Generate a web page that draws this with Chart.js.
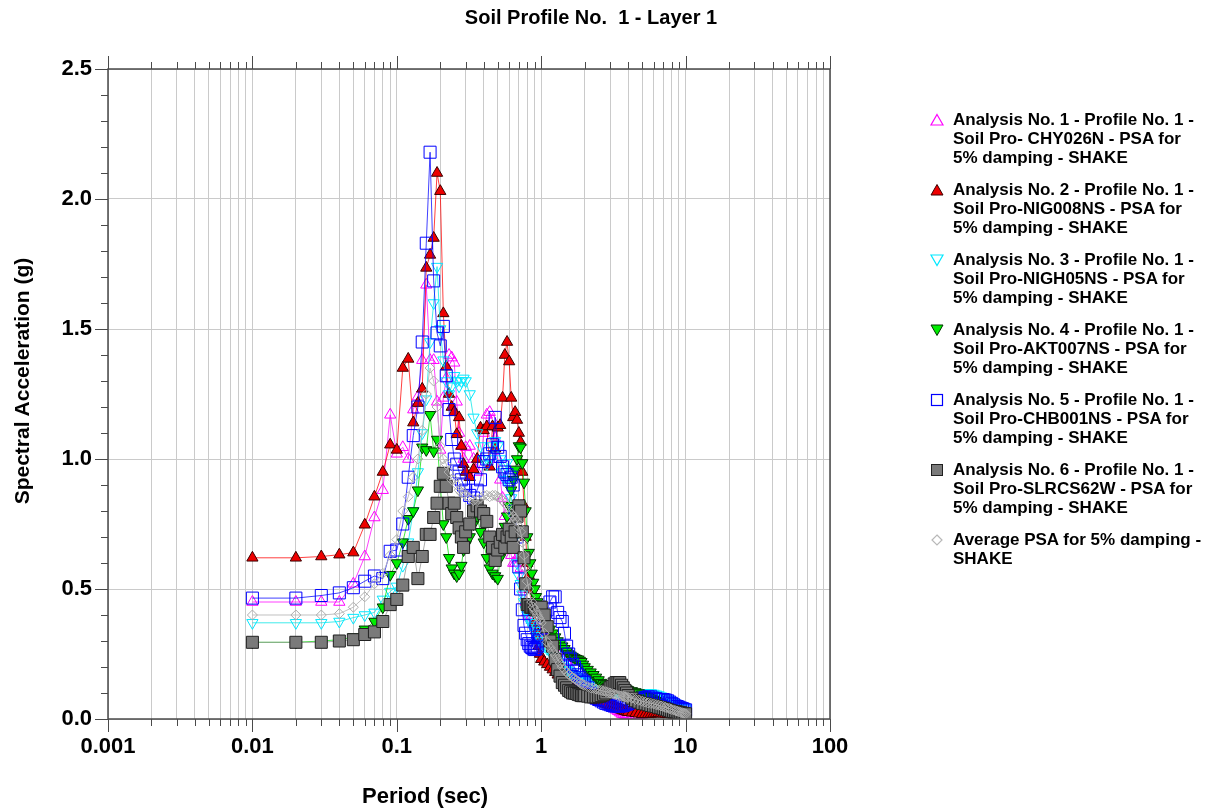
<!DOCTYPE html>
<html lang="en">
<head>
<meta charset="UTF-8">
<title>Soil Profile No. 1 - Layer 1</title>
<script src="https://cdn.jsdelivr.net/npm/chart.js@4.4.0/dist/chart.umd.min.js"></script>
<style>
  body { margin: 0; background: #fff; font-family: "Liberation Sans", Arial, sans-serif; }
  #wrap { position: relative; width: 1215px; height: 810px; overflow: hidden; }
  #chart { position: absolute; left: 0; top: 0; }
  .txt { position: absolute; font-weight: bold; color: #000; white-space: pre; }
  #title { top: 6px; left: 391px; width: 400px; text-align: center; font-size: 20px; }
  #xtitle { top: 783px; left: 325px; width: 200px; text-align: center; font-size: 22px; }
  #ytitle { top: 368px; left: -128px; width: 300px; height: 26px; line-height: 26px; text-align: center;
            font-size: 21px; transform: rotate(-90deg); }
  #legend { position: absolute; left: 928px; top: 110px; }
  .item { position: relative; height: 70px; }
  .item svg { position: absolute; left: 1px; top: 1.5px; }
  .item div { position: absolute; left: 25px; top: 0; font-size: 17px; line-height: 19px; font-weight: bold; white-space: nowrap; }
</style>
</head>
<body>
<div id="wrap">
  <canvas id="chart" width="1215" height="810"></canvas>
  <div id="title" class="txt">Soil Profile No.  1 - Layer 1</div>
  <div id="xtitle" class="txt">Period (sec)</div>
  <div id="ytitle" class="txt">Spectral Acceleration (g)</div>
  <div id="legend"></div>
</div>

<script>
// periods (sec)
const periods = [
  0.01,0.02,0.03,0.04,0.05,0.06,0.07,0.08,0.09,0.10,
  0.11,0.12,0.13,0.14,0.15,0.16,0.17,0.18,0.19,0.20,
  0.21,0.22,0.23,0.24,0.25,0.26,0.27,0.28,0.29,0.30,
  0.32,0.34,0.36,0.38,0.40,0.42,0.44,0.46,0.48,0.50,
  0.52,0.54,0.56,0.58,0.60,0.62,0.64,0.66,0.68,0.70,
  0.72,0.74,0.76,0.78,
  0.80,0.82,0.84,0.86,0.88,0.90,0.92,0.94,0.96,0.98,1.00,
  1.05,1.10,1.15,1.20,1.25,1.30,1.35,1.40,1.45,1.50,1.55,1.60,1.65,1.70,1.75,1.80,1.85,1.90,1.95,2.00,
  2.1,2.2,2.3,2.4,2.5,2.6,2.7,2.8,2.9,3.0,3.1,3.2,3.3,3.4,3.5,3.6,3.7,3.8,3.9,4.0,
  4.25,4.5,4.75,5.0,5.25,5.5,5.75,6.0,6.25,6.5,6.75,7.0,7.25,7.5,7.75,8.0,8.25,8.5,8.75,9.0,9.25,9.5,9.75,10.0
];

// spectral acceleration (g), one array per analysis
const psaCHY026N = [
  0.45,0.45,0.45,0.45,0.52,0.625,0.775,0.88,1.17,1.02,
  1.045,1.0,1.19,1.24,1.38,1.67,1.38,1.38,1.22,1.035,
  1.235,1.31,1.40,1.39,1.37,1.22,1.10,1.05,1.0,1.045,
  1.05,1.0,0.95,0.98,1.1,1.17,1.18,1.15,1.08,1.0,
  0.92,0.85,0.78,0.72,0.66,0.63,0.6,0.6,0.62,0.6,
  0.58,0.55,0.5,0.45,
  0.41,0.40,0.39,0.38,0.37,0.36,0.35,0.34,0.34,0.33,0.33,
  0.32,0.31,0.31,0.30,0.30,0.30,0.28,0.26,0.24,0.22,0.205,0.19,0.175,0.16,0.15,0.14,0.13,0.12,0.115,0.11,
  0.1,0.09,0.085,0.08,0.075,0.07,0.065,0.06,0.055,0.05,0.045,0.04,0.035,0.03,0.025,0.02,0.018,0.015,0.013,0.012,
  0.012,0.013,0.015,0.016,0.018,0.02,0.022,0.025,0.027,0.028,0.028,0.027,0.026,0.025,0.024,0.022,0.021,0.02,0.019,0.018,0.017,0.016,0.015,0.015
];
const psaNIG008NS = [
  0.62,0.62,0.625,0.632,0.64,0.747,0.855,0.95,1.055,1.035,
  1.35,1.385,1.14,1.215,1.27,1.735,1.785,1.85,2.10,2.03,
  1.56,1.355,1.25,1.20,1.18,1.095,1.16,1.05,0.98,0.95,
  0.93,0.96,1.0,1.12,1.11,1.125,0.97,1.125,1.04,1.12,
  1.13,1.235,1.40,1.45,1.375,1.235,1.16,1.18,1.15,1.10,
  1.065,0.95,0.82,0.7,
  0.6,0.55,0.5,0.45,0.41,0.37,0.34,0.31,0.28,0.25,0.23,
  0.22,0.21,0.2,0.19,0.18,0.17,0.165,0.16,0.15,0.14,0.135,0.13,0.125,0.12,0.11,0.105,0.1,0.095,0.09,0.088,
  0.084,0.08,0.076,0.072,0.068,0.065,0.062,0.058,0.055,0.052,0.049,0.046,0.043,0.04,0.037,0.035,0.032,0.03,0.028,0.026,
  0.024,0.022,0.02,0.018,0.018,0.018,0.019,0.02,0.021,0.022,0.021,0.02,0.019,0.018,0.018,0.017,0.016,0.015,0.015,0.014,0.013,0.013,0.012,0.012
];
const psaNIGH05NS = [
  0.37,0.37,0.37,0.375,0.39,0.40,0.41,0.46,0.49,0.51,
  0.59,0.68,0.8,0.95,1.1,1.23,1.45,1.6,1.74,1.5,
  1.38,1.3,1.25,1.28,1.32,1.3,1.28,1.3,1.31,1.3,
  1.25,1.16,1.1,1.05,1.0,0.98,1.0,1.05,1.07,1.05,
  1.0,0.95,0.92,0.985,0.9,0.85,0.8,0.7,0.6,0.55,
  0.52,0.48,0.45,0.42,
  0.4,0.39,0.37,0.36,0.35,0.34,0.33,0.32,0.31,0.30,0.29,
  0.28,0.27,0.26,0.25,0.24,0.23,0.22,0.21,0.2,0.19,0.185,0.18,0.175,0.17,0.165,0.16,0.155,0.15,0.148,0.145,
  0.142,0.14,0.135,0.13,0.127,0.125,0.122,0.12,0.117,0.115,0.112,0.11,0.108,0.105,0.103,0.1,0.1,0.1,0.1,0.1,
  0.1,0.1,0.1,0.1,0.1,0.1,0.1,0.098,0.095,0.092,0.088,0.084,0.08,0.076,0.072,0.068,0.064,0.06,0.056,0.053,0.05,0.047,0.044,0.042
];
const psaAKT007NS = [
  0.295,0.295,0.3,0.305,0.315,0.345,0.375,0.43,0.555,0.6,
  0.68,0.77,0.8,0.88,1.045,1.035,1.17,1.03,1.075,0.9,
  0.75,0.7,0.62,0.58,0.56,0.55,0.56,0.59,0.65,0.67,
  0.7,0.75,0.78,0.72,0.68,0.62,0.58,0.56,0.55,0.54,
  0.62,0.68,0.74,0.78,0.82,0.88,0.92,0.96,1.0,1.05,
  1.045,0.985,0.91,0.8,
  0.7,0.64,0.6,0.56,0.525,0.5,0.47,0.45,0.43,0.41,0.4,
  0.38,0.36,0.345,0.33,0.315,0.3,0.29,0.28,0.27,0.26,0.25,0.245,0.24,0.235,0.232,0.23,0.225,0.22,0.21,0.2,
  0.19,0.18,0.17,0.16,0.15,0.14,0.135,0.13,0.125,0.12,0.12,0.12,0.12,0.12,0.12,0.12,0.12,0.118,0.115,0.112,
  0.108,0.104,0.1,0.095,0.09,0.085,0.08,0.075,0.07,0.065,0.06,0.056,0.052,0.048,0.045,0.042,0.04,0.037,0.035,0.033,0.031,0.029,0.027,0.025
];
const psaCHB001NS = [
  0.465,0.465,0.475,0.485,0.505,0.53,0.55,0.54,0.645,0.65,
  0.75,0.93,1.09,1.2,1.45,1.83,2.18,1.685,1.485,1.435,
  1.51,1.32,1.19,1.075,1.0,0.98,0.95,0.92,0.9,0.88,
  0.86,0.85,0.88,0.92,0.99,1.0,1.02,1.055,1.16,1.045,
  1.01,0.97,0.95,0.94,0.92,0.93,0.9,0.8,0.7,0.585,
  0.5,0.42,0.36,0.33,
  0.305,0.29,0.28,0.275,0.27,0.267,0.27,0.28,0.3,0.32,0.35,
  0.38,0.42,0.45,0.47,0.47,0.41,0.39,0.375,0.33,0.28,0.25,0.23,0.21,0.2,0.185,0.17,0.16,0.15,0.145,0.14,
  0.12,0.1,0.09,0.08,0.075,0.07,0.065,0.06,0.058,0.055,0.052,0.05,0.05,0.05,0.05,0.05,0.052,0.055,0.057,0.06,
  0.065,0.07,0.075,0.08,0.082,0.085,0.085,0.08,0.078,0.075,0.075,0.075,0.073,0.07,0.065,0.06,0.055,0.05,0.048,0.045,0.042,0.04,0.037,0.035
];
const psaSLRCS62W = [
  0.295,0.295,0.295,0.3,0.305,0.325,0.335,0.375,0.44,0.46,
  0.515,0.625,0.66,0.54,0.625,0.71,0.71,0.775,0.83,0.895,
  0.945,0.895,0.83,0.79,0.83,0.775,0.735,0.7,0.66,0.72,
  0.75,0.8,0.82,0.8,0.79,0.76,0.7,0.66,0.61,0.65,
  0.68,0.71,0.66,0.7,0.73,0.7,0.66,0.72,0.78,0.82,
  0.8,0.72,0.62,0.52,
  0.44,0.44,0.43,0.43,0.43,0.43,0.42,0.42,0.42,0.43,0.43,
  0.4,0.355,0.3,0.28,0.23,0.19,0.165,0.14,0.13,0.12,0.11,0.105,0.1,0.1,0.098,0.095,0.093,0.09,0.09,0.09,
  0.088,0.085,0.085,0.085,0.087,0.09,0.095,0.1,0.11,0.12,0.125,0.135,0.14,0.14,0.14,0.13,0.12,0.11,0.1,0.09,
  0.08,0.07,0.065,0.06,0.058,0.055,0.052,0.05,0.048,0.045,0.043,0.04,0.038,0.035,0.033,0.03,0.029,0.028,0.027,0.025,0.024,0.022,0.021,0.02
];
const psaAverage = [
  0.40,0.40,0.40,0.405,0.43,0.47,0.52,0.56,0.63,0.69,
  0.8,0.855,0.93,1.0,1.11,1.25,1.35,1.3,1.2,1.05,
  1.0,0.98,0.95,0.92,0.92,0.9,0.88,0.87,0.87,0.86,
  0.85,0.84,0.84,0.85,0.86,0.86,0.855,0.86,0.86,0.855,
  0.85,0.84,0.83,0.82,0.8,0.79,0.78,0.77,0.76,0.74,
  0.72,0.68,0.63,0.58,
  0.53,0.5,0.47,0.45,0.43,0.42,0.41,0.4,0.39,0.38,0.37,
  0.33,0.295,0.275,0.26,0.245,0.23,0.215,0.2,0.19,0.18,0.172,0.165,0.16,0.155,0.15,0.145,0.14,0.135,0.132,0.13,
  0.125,0.12,0.118,0.115,0.112,0.11,0.107,0.105,0.102,0.1,0.098,0.095,0.093,0.09,0.089,0.088,0.087,0.085,0.084,0.083,
  0.08,0.075,0.072,0.068,0.065,0.062,0.06,0.058,0.055,0.053,0.05,0.048,0.045,0.042,0.04,0.037,0.035,0.032,0.03,0.028,0.026,0.024,0.022,0.02
];

const seriesValues = [psaCHY026N, psaNIG008NS, psaNIGH05NS, psaAKT007NS, psaCHB001NS, psaSLRCS62W, psaAverage];

const legendLines = [
  ['Analysis No. 1 - Profile No. 1 -', 'Soil Pro- CHY026N - PSA for', '5% damping - SHAKE'],
  ['Analysis No. 2 - Profile No. 1 -', 'Soil Pro-NIG008NS - PSA for', '5% damping - SHAKE'],
  ['Analysis No. 3 - Profile No. 1 -', 'Soil Pro-NIGH05NS - PSA for', '5% damping - SHAKE'],
  ['Analysis No. 4 - Profile No. 1 -', 'Soil Pro-AKT007NS - PSA for', '5% damping - SHAKE'],
  ['Analysis No. 5 - Profile No. 1 -', 'Soil Pro-CHB001NS - PSA for', '5% damping - SHAKE'],
  ['Analysis No. 6 - Profile No. 1 -', 'Soil Pro-SLRCS62W - PSA for', '5% damping - SHAKE'],
  ['Average PSA for 5% damping -', 'SHAKE']
];

const xDecadeLabels = ['0.001', '0.01', '0.1', '1', '10', '100'];
const yTickLabels = ['0.0', '0.5', '1.0', '1.5', '2.0', '2.5'];

// marker look per series
const looks = [
  { line: 'rgba(255,0,255,0.75)', fill: 'rgba(0,0,0,0)', edge: '#ff00ff', shape: 'triangle', rot: 0, r: 6.5 },
  { line: 'rgba(255,0,0,0.75)', fill: '#ee0000', edge: '#3a0000', shape: 'triangle', rot: 0, r: 6.5 },
  { line: 'rgba(0,230,230,0.75)', fill: 'rgba(0,0,0,0)', edge: '#00e8ff', shape: 'triangle', rot: 180, r: 6.5 },
  { line: 'rgba(0,220,0,0.75)', fill: '#00ee00', edge: '#003000', shape: 'triangle', rot: 180, r: 6.5 },
  { line: 'rgba(0,0,255,0.75)', fill: 'rgba(0,0,0,0)', edge: '#0000ff', shape: 'rect', rot: 0, r: 8.5 },
  { line: 'rgba(150,150,150,0.8)', fill: '#7a7a7a', edge: '#202020', shape: 'rect', rot: 0, r: 8.5 },
  { line: 'rgba(185,185,185,0.9)', fill: 'rgba(0,0,0,0)', edge: '#acacac', shape: 'rectRot', rot: 0, r: 5 }
];
const legendIcons = [
  '<polygon points="8,2.5 14,13 2,13" fill="none" stroke="#ff00ff" stroke-width="1.2"/>',
  '<polygon points="8,2.5 14,13 2,13" fill="#ee0000" stroke="#3a0000" stroke-width="1"/>',
  '<polygon points="2,3 14,3 8,13.5" fill="none" stroke="#00e8ff" stroke-width="1.2"/>',
  '<polygon points="2,3 14,3 8,13.5" fill="#00ee00" stroke="#003000" stroke-width="1"/>',
  '<rect x="2.5" y="2.5" width="11" height="11" fill="none" stroke="#0000ff" stroke-width="1.2"/>',
  '<rect x="2.5" y="2.5" width="11" height="11" fill="#7a7a7a" stroke="#202020" stroke-width="1"/>',
  '<polygon points="8,3 13,8 8,13 3,8" fill="none" stroke="#b8b8b8" stroke-width="1.2"/>'
];

const legend = document.getElementById('legend');
legendLines.forEach((lines, i) => {
  legend.innerHTML += `<div class="item"><svg width="16" height="16">${legendIcons[i]}</svg><div>${lines.join('<br>')}</div></div>`;
});

// tick positions for the log axis: 1..9 in every decade
const xTickValues = [];
for (let e = -3; e <= 1; e++) {
  for (let m = 1; m <= 9; m++) xTickValues.push(m * Math.pow(10, e));
}
xTickValues.push(100);

function decadeIndex(v) {
  const e = Math.log10(v);
  return Math.abs(e - Math.round(e)) < 1e-9 ? Math.round(e) + 3 : -1;
}

const datasets = seriesValues.map((vals, i) => ({
  data: periods.map((p, k) => ({ x: p, y: vals[k] })),
  borderColor: looks[i].line,
  borderWidth: 1,
  pointStyle: looks[i].shape,
  pointRotation: looks[i].rot,
  pointRadius: looks[i].r,
  pointBackgroundColor: looks[i].fill,
  pointBorderColor: looks[i].edge,
  pointBorderWidth: 1,
  tension: 0,
  order: seriesValues.length - 1 - i
}));

const frame = {
  id: 'frame',
  afterDraw(chart) {
    const { ctx, chartArea: a, scales: { x, y } } = chart;
    ctx.save();
    ctx.strokeStyle = '#4a4a4a';
    ctx.lineWidth = 1;
    ctx.beginPath();
    xTickValues.forEach(v => {
      const px = Math.round(x.getPixelForValue(v)) + 0.5;
      const len = decadeIndex(v) >= 0 ? 13 : 7;
      ctx.moveTo(px, a.bottom); ctx.lineTo(px, a.bottom + len);
      ctx.moveTo(px, a.top); ctx.lineTo(px, a.top - len);
    });
    for (let i = 0; i <= 25; i++) {
      const py = Math.round(y.getPixelForValue(i / 10)) + 0.5;
      const len = i % 5 === 0 ? 13 : 7;
      ctx.moveTo(a.left, py); ctx.lineTo(a.left - len, py);
    }
    ctx.stroke();
    ctx.lineWidth = 1.5;
    ctx.strokeRect(a.left, a.top, a.right - a.left, a.bottom - a.top);
    ctx.restore();
  }
};

const tickFont = { family: '"Liberation Sans", Arial, sans-serif', size: 22, weight: 'bold' };

new Chart(document.getElementById('chart'), {
  type: 'line',
  data: { datasets },
  options: {
    responsive: false,
    animation: false,
    devicePixelRatio: 1,
    layout: { padding: { top: 69, right: 385, bottom: 0, left: 0 } },
    plugins: { legend: { display: false }, tooltip: { enabled: false }, title: { display: false } },
    scales: {
      x: {
        type: 'logarithmic',
        min: 0.001,
        max: 100,
        afterBuildTicks: s => { s.ticks = xTickValues.map(v => ({ value: v })); },
        afterFit: s => { s.height = 91; },
        grid: { color: '#cacaca', lineWidth: 1, drawTicks: false },
        border: { display: false },
        ticks: {
          autoSkip: false, maxRotation: 0, minRotation: 0, padding: 15, color: '#000', font: tickFont,
          callback: v => { const d = decadeIndex(v); return d >= 0 ? xDecadeLabels[d] : ''; }
        }
      },
      y: {
        min: 0,
        max: 2.5,
        afterFit: s => { s.width = 108; },
        grid: { color: '#cacaca', lineWidth: 1, drawTicks: false },
        border: { display: false },
        ticks: {
          stepSize: 0.5, padding: 16, color: '#000', font: tickFont,
          callback: v => yTickLabels[Math.round(v / 0.5)]
        }
      }
    }
  },
  plugins: [frame]
});
</script>
</body>
</html>
